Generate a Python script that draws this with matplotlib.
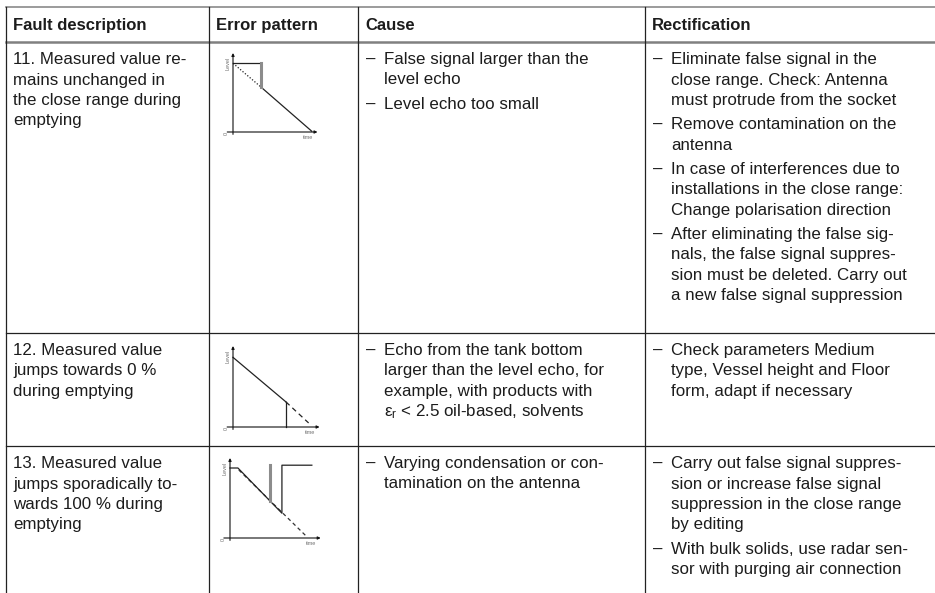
import numpy as np
import matplotlib
matplotlib.use("Agg")
import matplotlib.pyplot as plt

plt.rcParams['font.family'] = ['Liberation Sans', 'DejaVu Sans']
plt.rcParams['mathtext.fontset'] = 'custom'
plt.rcParams['mathtext.rm'] = 'Liberation Sans'
plt.rcParams['mathtext.it'] = 'Liberation Sans:italic'

W, H = 935, 593

# table text
headers = ["Fault description", "Error pattern", "Cause", "Rectification"]

faults = [
	["11. Measured value re-", "mains unchanged in", "the close range during", "emptying"],
	["12. Measured value", "jumps towards 0 %", "during emptying"],
	["13. Measured value", "jumps sporadically to-", "wards 100 % during", "emptying"],
]

causes = [
	[["False signal larger than the", "level echo"], ["Level echo too small"]],
	[["Echo from the tank bottom", "larger than the level echo, for", "example, with products with",
	  "ε$_\\mathrm{r}$ < 2.5 oil-based, solvents"]],
	[["Varying condensation or con-", "tamination on the antenna"]],
]

fixes = [
	[["Eliminate false signal in the", "close range. Check: Antenna", "must protrude from the socket"],
	 ["Remove contamination on the", "antenna"],
	 ["In case of interferences due to", "installations in the close range:", "Change polarisation direction"],
	 ["After eliminating the false sig-", "nals, the false signal suppres-", "sion must be deleted. Carry out",
	  "a new false signal suppression"]],
	[["Check parameters Medium", "type, Vessel height and Floor", "form, adapt if necessary"]],
	[["Carry out false signal suppres-", "sion or increase false signal", "suppression in the close range",
	  "by editing"],
	 ["With bulk solids, use radar sen-", "sor with purging air connection"]],
]

# mini chart data (time, level), both 0..1
ch1_true_t = [0.0, 0.34]
ch1_true_lvl = [0.87, 0.57]
ch1_echo_t = [0.34, 0.96]
ch1_echo_lvl = [0.57, 0.01]
ch1_top_t = [0.0, 0.34]
ch1_top_lvl = [0.87, 0.87]
ch1_step_t = [0.34, 0.34]
ch1_step_lvl = [0.87, 0.57]

ch2_echo_t = [0.0, 0.63]
ch2_echo_lvl = [0.86, 0.31]
ch2_drop_t = [0.63, 0.63]
ch2_drop_lvl = [0.31, 0.0]
ch2_true_t = [0.63, 0.90]
ch2_true_lvl = [0.31, 0.05]

ch3_echo_t = [0.0, 0.09, 0.59, 0.59, 0.93]
ch3_echo_lvl = [0.875, 0.875, 0.31, 0.91, 0.91]
ch3_true_t = [0.10, 0.86]
ch3_true_lvl = [0.85, 0.03]
ch3_spike_t = [0.45, 0.45]
ch3_spike_lvl = [0.91, 0.46]

# layout (pixels)
TOP = 7
ROWS = [42, 333, 446]
COLS = [6, 209, 358, 645]
STEP = 20.5
GAP = 3.6
FS = 12.2
HFS = 12
INK = '#1c1c1c'

fig = plt.figure(figsize=(W / 100, H / 100), dpi=100)
tab = fig.add_axes([0, 0, 1, 1])
tab.set_xlim(0, W)
tab.set_ylim(H, 0)
tab.axis('off')

# grid lines
tab.plot([COLS[0], W], [TOP, TOP], color='#8a8a8a', lw=1.2)
tab.plot([COLS[0], W], [ROWS[0], ROWS[0]], color='#808080', lw=1.8)
for r in ROWS[1:]:
	tab.plot([COLS[0], W], [r, r], color='#222222', lw=0.9)
for c in COLS:
	tab.plot([c, c], [TOP, H], color='#222222', lw=0.9)

# header
for c, name in zip(COLS, headers):
	tab.text(c + 7, TOP + 23, name, fontsize=HFS, fontweight='bold', color=INK, va='baseline')

def bullets(x, y, paras):
	for para in paras:
		tab.text(x + 8, y, '–', fontsize=FS, color=INK, va='baseline')
		for line in para:
			tab.text(x + 26, y, line, fontsize=FS, color=INK, va='baseline')
			y += STEP
		y += GAP

for i, top in enumerate(ROWS):
	y0 = top + 22
	for k, line in enumerate(faults[i]):
		tab.text(COLS[0] + 7, y0 + k * STEP, line, fontsize=FS, color=INK, va='baseline')
	bullets(COLS[2], y0, causes[i])
	bullets(COLS[3], y0, fixes[i])


def mini_chart(ox, oy, w, h):
	ax = fig.add_axes([(ox - 0.15 * w) / W, (H - oy - 0.15 * h) / H, 1.3 * w / W, 1.3 * h / H])
	ax.set_xlim(-0.15, 1.15)
	ax.set_ylim(-0.15, 1.15)
	ax.axis('off')
	arrow = dict(arrowstyle='-|>', lw=0.8, color='#111111', mutation_scale=4, shrinkA=0, shrinkB=0)
	ax.annotate('', xy=(0, 1.0), xytext=(0, -0.03), arrowprops=arrow)
	ax.annotate('', xy=(1.03, 0), xytext=(-0.07, 0), arrowprops=arrow)
	ax.text(-0.06, 0.87, 'Level', rotation=90, fontsize=4, color='#707070', ha='center', va='center')
	ax.text(-0.08, -0.02, '0', rotation=90, fontsize=4, color='#707070', ha='center', va='center')
	ax.text(0.92, -0.07, 'time', fontsize=4, color='#707070', ha='center', va='center')
	return ax

ax1 = mini_chart(233, 132, 82, 79)
ax1.plot(ch1_true_t, ch1_true_lvl, color='#222222', lw=0.9, ls=(0, (1, 1.5)))
ax1.plot(ch1_echo_t, ch1_echo_lvl, color='#222222', lw=0.9)
ax1.plot(ch1_top_t, ch1_top_lvl, color='#222222', lw=0.9)
ax1.plot(ch1_step_t, ch1_step_lvl, color='#8c8c8c', lw=2.2)

ax2 = mini_chart(233, 427, 84, 81)
ax2.plot(ch2_echo_t, ch2_echo_lvl, color='#222222', lw=0.9)
ax2.plot(ch2_drop_t, ch2_drop_lvl, color='#222222', lw=0.9)
ax2.plot(ch2_true_t, ch2_true_lvl, color='#222222', lw=0.9, ls=(0, (4, 3)))

ax3 = mini_chart(230, 538, 88, 80)
ax3.plot(ch3_true_t, ch3_true_lvl, color='#333333', lw=0.9, ls=(0, (3, 2.5)))
ax3.plot(ch3_echo_t, ch3_echo_lvl, color='#222222', lw=0.9)
ax3.plot(ch3_spike_t, ch3_spike_lvl, color='#8c8c8c', lw=2.2)

fig.savefig('out.png', dpi=100)
